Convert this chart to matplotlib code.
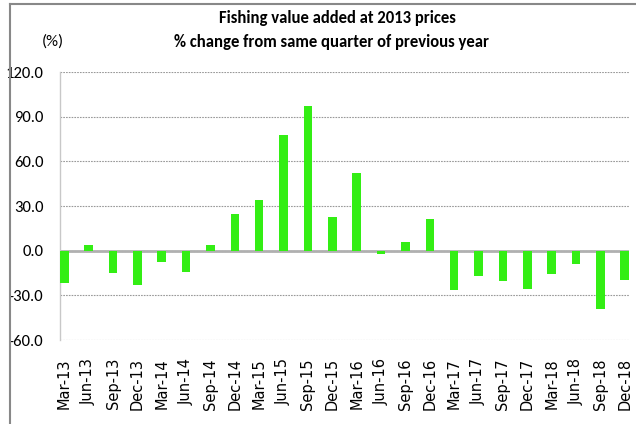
import matplotlib
matplotlib.use('Agg')
import matplotlib.pyplot as plt
from matplotlib import font_manager
from matplotlib.lines import Line2D

# quarterly % change, fishing value added at 2013 prices
quarters = ['Mar-13', 'Jun-13', 'Sep-13', 'Dec-13',
            'Mar-14', 'Jun-14', 'Sep-14', 'Dec-14',
            'Mar-15', 'Jun-15', 'Sep-15', 'Dec-15',
            'Mar-16', 'Jun-16', 'Sep-16', 'Dec-16',
            'Mar-17', 'Jun-17', 'Sep-17', 'Dec-17',
            'Mar-18', 'Jun-18', 'Sep-18', 'Dec-18']
pct_change = [-22.0, 3.6, -15.2, -23.1,
              -7.8, -14.3, 3.6, 24.7,
              34.1, 77.8, 96.9, 22.4,
              52.5, -2.0, 5.6, 21.1,
              -26.5, -17.3, -20.4, -25.8,
              -15.9, -9.2, -39.2, -19.7]
yticks = [-60, -30, 0, 30, 60, 90, 120]

# pick a narrow font for titles / y labels
available = set(f.name for f in font_manager.fontManager.ttflist)
narrow = 'DejaVu Sans'
for name in ['Carlito', 'Liberation Sans Narrow', 'Roboto Condensed', 'Open Sans Condensed', 'Arimo']:
    if name in available:
        narrow = name
        break
small = narrow == 'DejaVu Sans'
title_size = 9 if small else 12
ytick_size = 8.5 if small else 12

fig = plt.figure(figsize=(6.36, 4.24), dpi=100)
ax = fig.add_axes([60/636, 1 - 340/424, (629 - 60)/636, (340 - 72)/424])

x = range(len(quarters))
ax.bar(x, pct_change, width=0.35, color='#33ee14', zorder=3)

ax.set_xlim(-0.175, 23.175)
ax.set_ylim(-60, 120)
ax.set_yticks(yticks)
ax.set_yticklabels(['%.1f' % v for v in yticks], family=narrow, fontsize=ytick_size)
ax.set_xticks(list(x))
ax.set_xticklabels(quarters, rotation=90, fontsize=10.5, family='DejaVu Sans')
ax.tick_params(axis='x', length=0, pad=13)
ax.tick_params(axis='y', length=0, pad=12)

ax.grid(axis='y', color='#999999', linestyle=(0, (1.5, 1)), linewidth=0.8, zorder=0)
ax.axhline(0, color='#b0b0b0', linewidth=2, zorder=2)
for side in ['top', 'right', 'bottom']:
    ax.spines[side].set_visible(False)
ax.spines['left'].set_color('#c8c8c8')
ax.spines['left'].set_linewidth(1)

# titles
fig.text(337/636, 1 - 18/424, 'Fishing value added at 2013 prices',
         ha='center', va='center', fontsize=title_size, fontweight='bold', family=narrow)
fig.text(332/636, 1 - 42/424, '% change from same quarter of previous year',
         ha='center', va='center', fontsize=title_size, fontweight='bold', family=narrow)
fig.text(53/636, 1 - 42/424, '(%)', ha='center', va='center', fontsize=ytick_size, family=narrow)

# outer chart frame (left and top edges)
fig.add_artist(Line2D([10/636, 10/636], [0, 1 - 4/424], transform=fig.transFigure,
                      color='#888888', linewidth=1.5))
fig.add_artist(Line2D([10/636, 1], [1 - 4/424, 1 - 4/424], transform=fig.transFigure,
                      color='#888888', linewidth=1.5))

fig.savefig('out.png', dpi=100)
